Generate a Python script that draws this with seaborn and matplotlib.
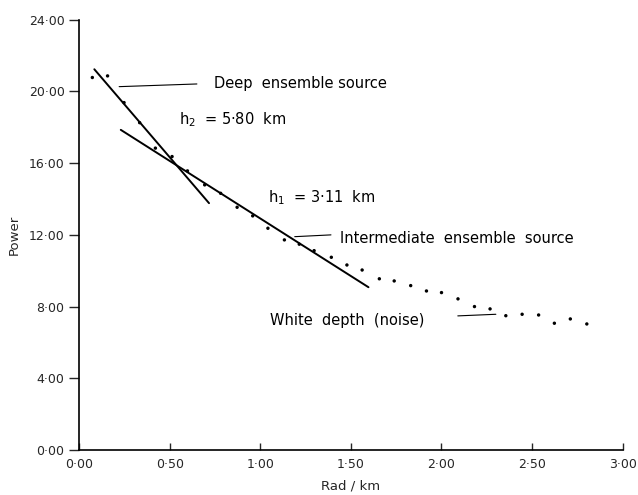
import matplotlib
matplotlib.use("Agg")
import matplotlib.pyplot as plt
import pandas as pd
import seaborn as sns
from matplotlib.ticker import FuncFormatter

# Power spectrum points
rad = [0.073, 0.157, 0.248, 0.334, 0.421, 0.513, 0.598, 0.693, 0.781, 0.872,
       0.958, 1.042, 1.133, 1.215, 1.297, 1.392, 1.478, 1.562, 1.657, 1.739,
       1.830, 1.917, 2.000, 2.091, 2.182, 2.268, 2.355, 2.445, 2.536, 2.623,
       2.711, 2.802]
power = [20.78, 20.87, 19.38, 18.26, 16.84, 16.37, 15.57, 14.79, 14.32, 13.54,
         13.06, 12.37, 11.72, 11.48, 11.12, 10.75, 10.32, 10.04, 9.55, 9.43,
         9.17, 8.87, 8.78, 8.43, 8.00, 7.87, 7.49, 7.57, 7.53, 7.07,
         7.31, 7.03]

# fitted straight lines (end points)
deep_x = [0.084, 0.717]
deep_y = [21.24, 13.77]
inter_x = [0.23, 1.597]
inter_y = [17.86, 9.08]

# leader lines for the labels
lead_deep_x = [0.221, 0.65]
lead_deep_y = [20.27, 20.42]
lead_inter_x = [1.19, 1.39]
lead_inter_y = [11.90, 12.00]
lead_noise_x = [2.09, 2.30]
lead_noise_y = [7.48, 7.57]

x_ticks = [0, 0.5, 1.0, 1.5, 2.0, 2.5, 3.0]
y_ticks = [0, 4, 8, 12, 16, 20, 24]

df = pd.DataFrame({"rad": rad, "power": power})

sns.set_style("ticks")
plt.rcParams["font.family"] = ["DejaVu Sans"]

fig = plt.figure(figsize=(6.38, 4.95), dpi=100)
ax = fig.add_axes([0.124, 0.091, 0.852, 0.869])

sns.scatterplot(data=df, x="rad", y="power", ax=ax, color="black", s=6,
                edgecolor="none")
sns.lineplot(x=deep_x, y=deep_y, ax=ax, color="black", lw=1.4)
sns.lineplot(x=inter_x, y=inter_y, ax=ax, color="black", lw=1.4)
for lx, ly in [(lead_deep_x, lead_deep_y), (lead_inter_x, lead_inter_y),
               (lead_noise_x, lead_noise_y)]:
    ax.plot(lx, ly, color="black", lw=0.8)

txt = dict(fontsize=10.5, color="black", va="center")
ax.text(0.744, 20.42, "Deep  ensemble source", **txt)
ax.text(0.553, 18.45, "h$_2$  = 5·80  km", **txt)
ax.text(1.045, 14.1, "h$_1$  = 3·11  km", **txt)
ax.text(1.44, 11.77, "Intermediate  ensemble  source", **txt)
ax.text(1.056, 7.25, "White  depth  (noise)", **txt)

ax.set_xlim(0, 3)
ax.set_ylim(0, 24)
ax.set_xticks(x_ticks)
ax.set_yticks(y_ticks)
fmt = FuncFormatter(lambda v, p: f"{v:.2f}".replace(".", "·"))
ax.xaxis.set_major_formatter(fmt)
ax.yaxis.set_major_formatter(fmt)
ax.tick_params(axis="x", direction="in", length=5, width=1, labelsize=9, pad=6)
ax.tick_params(axis="y", direction="out", length=7, width=1, labelsize=9)
ax.set_xlabel("Rad / km", fontsize=9.5, labelpad=6)
ax.set_ylabel("Power", fontsize=9.5, labelpad=6)
sns.despine(ax=ax)
for s in ["left", "bottom"]:
    ax.spines[s].set_linewidth(1.2)
    ax.spines[s].set_color("black")

fig.savefig("out.png", dpi=100)
